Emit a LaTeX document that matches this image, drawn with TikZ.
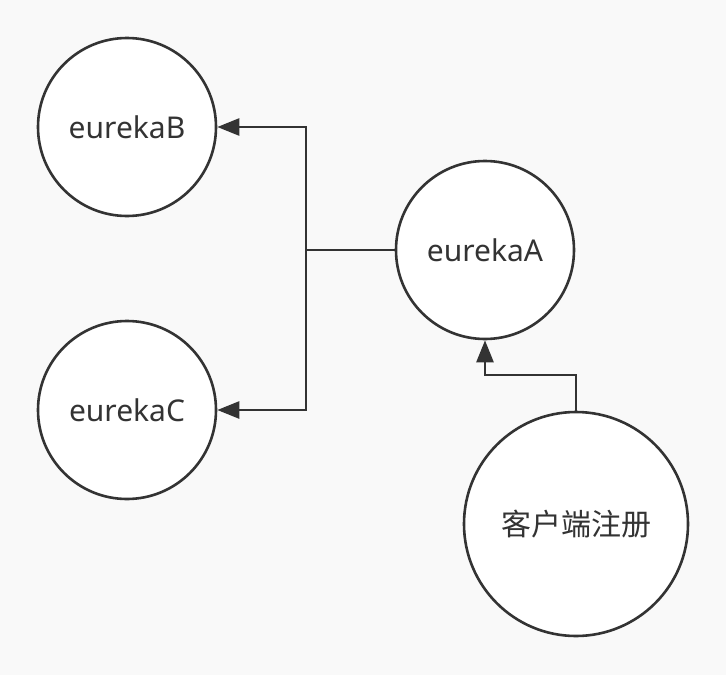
\documentclass[tikz,border=0pt]{standalone}
\usepackage{fontspec}
\setmainfont{Noto Sans}
\newfontfamily\cjk{Noto Sans CJK SC}
\usetikzlibrary{arrows.meta}
\definecolor{ink}{HTML}{333333}
\definecolor{paper}{HTML}{F9F9F9}

\begin{document}
\begin{tikzpicture}[x=1pt, y=-1pt,
    server/.style={circle, draw=ink, line width=2.6pt, fill=white, text=ink,
      minimum size=178pt, inner sep=0pt, font=\fontsize{30}{36}\selectfont},
    wire/.style={draw=ink, line width=2.6pt},
    tip/.style={-{Triangle[length=22pt, width=17pt]}}]
  \fill [paper] (0, 0) rectangle (726, 675);
  \useasboundingbox (0, 0) rectangle (726, 675);

  \node [server] (eurekaB) at (127, 127) {eurekaB};
  \node [server] (eurekaC) at (127, 410) {eurekaC};
  \node [server] (eurekaA) at (485, 250) {eurekaA};
  \node [server, minimum size=224pt, font=\cjk\fontsize{30}{36}\selectfont]
    (client) at (576, 524) {客户端注册};

  \coordinate (hub) at (306, 250);
  \coordinate (bend) at (576, 375);

  \draw [wire] (eurekaA.west) -- (hub);
  \draw [wire, tip] (hub) |- (eurekaB.east);
  \draw [wire, tip] (hub) |- (eurekaC.east);
  \draw [wire, tip] (client.north) -- (bend) -| (eurekaA.south);
\end{tikzpicture}
\end{document}
